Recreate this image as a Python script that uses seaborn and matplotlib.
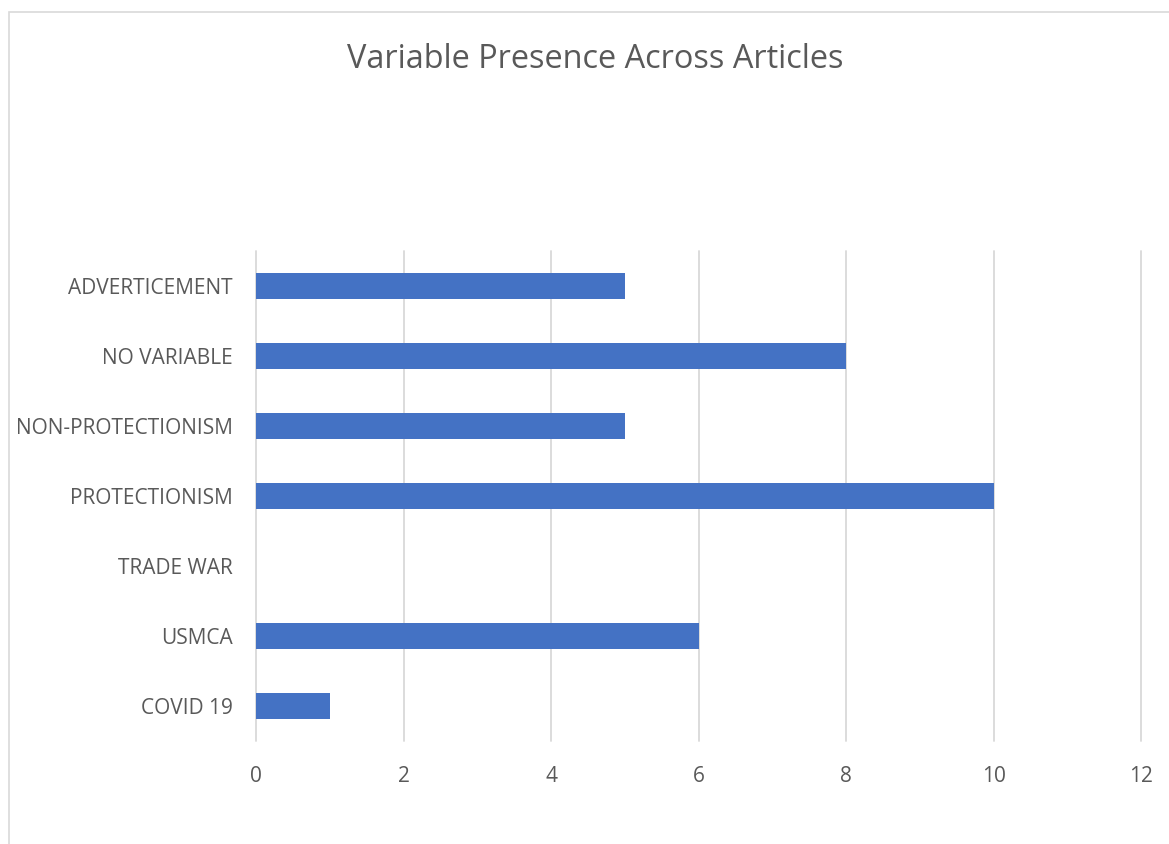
import matplotlib
matplotlib.use("Agg")
import matplotlib.pyplot as plt
import seaborn as sns
import pandas as pd
from matplotlib.patches import Rectangle

categories = ["ADVERTICEMENT", "NO VARIABLE", "NON-PROTECTIONISM", "PROTECTIONISM",
              "TRADE WAR", "USMCA", "COVID 19"]
values = [5, 8, 5, 10, 0, 6, 1]
xticks = [0, 2, 4, 6, 8, 10, 12]
title = "Variable Presence Across Articles"

sns.set_theme(style="white")
plt.rcParams['font.family'] = ['Open Sans', 'DejaVu Sans']

df = pd.DataFrame({"cat": categories, "val": values})

fig = plt.figure(figsize=(11.69, 8.44), dpi=100)
ax = fig.add_axes([256/1169, 1 - 741/844, (1141-256)/1169, (741-251)/844])

sns.barplot(data=df, x="val", y="cat", order=categories, color="#4472C4",
            width=0.36, orient="h", ax=ax, saturation=1, zorder=3, linewidth=0)

ax.set_xlim(0, 12)
ax.set_ylim(len(categories) - 0.5, -0.5)
ax.set_xticks(xticks)
ax.set_xticklabels([str(t) for t in xticks])
ax.set_xlabel("")
ax.set_ylabel("")
for s in ax.spines.values():
    s.set_visible(False)
ax.grid(axis="x", color="#D9D9D9", linewidth=1.3, zorder=0)
ax.grid(axis="y", visible=False)
ax.set_axisbelow(True)
for gl in ax.get_xgridlines():
    gl.set_clip_on(False)
ax.tick_params(axis="x", length=0, pad=18, labelsize=15, labelcolor="#595959")
ax.tick_params(axis="y", length=0, pad=17, labelsize=15, labelcolor="#595959")

fig.text(595/1169, 1 - 60/844, title, ha="center", va="center",
         fontsize=23.4, color="#595959")

# chart frame border
fig.patches.append(Rectangle((9/1169, -0.1), 1.2, 1 - 12/844 + 0.1,
                             transform=fig.transFigure, fill=False,
                             edgecolor="#D9D9D9", linewidth=1.2))

fig.savefig("out.png", dpi=100)
